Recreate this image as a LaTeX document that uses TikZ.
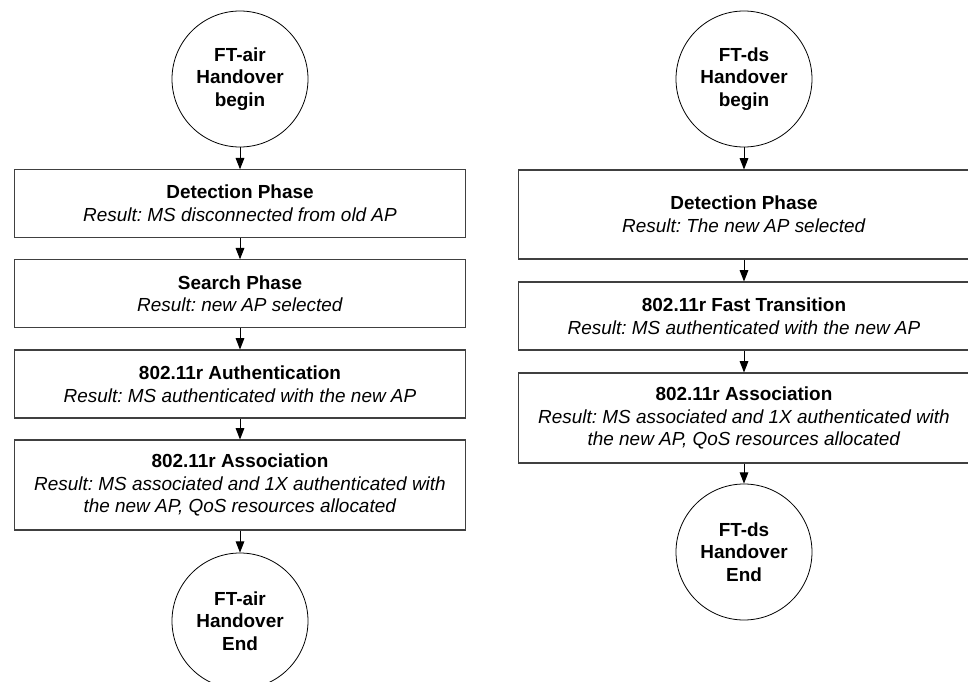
\documentclass[tikz,border=0pt]{standalone}
\usepackage{fontspec}
\setmainfont{Liberation Sans}
\usetikzlibrary{arrows.meta}
\frenchspacing
\tikzset{
	phase/.style={draw=black!75, line width=0.8pt, fill=white,
		minimum width=338.5pt, minimum height=50.5pt, inner sep=0pt,
		align=center, font=\fontsize{14.2pt}{16.9pt}\selectfont},
	tallphase/.style={phase, minimum height=67.5pt},
	terminal/.style={draw, circle, line width=0.6pt, minimum size=102pt,
		inner sep=0pt, align=center, font=\fontsize{14.2pt}{16.9pt}\selectfont\bfseries},
	flow/.style={-{Triangle[length=8.5pt,width=6.5pt]}, line width=0.75pt}
}
\begin{document}
\begin{tikzpicture}[x=0.75pt, y=-0.75pt]
		\useasboundingbox (0,0) rectangle (968,682);
		% FT-air
		\node[terminal] (airbegin) at (240,79) {FT-air\\Handover\\begin};
		\node[phase] (airdetect) at (240,203.5)
			{\textbf{Detection Phase}\\\textit{Result: MS disconnected from old AP}};
		\node[phase] (airsearch) at (240,293.5)
			{\textbf{Search Phase}\\\textit{Result: new AP selected}};
		\node[phase, minimum height=51pt] (airauth) at (240,384)
			{\textbf{802.11r Authentication}\\\textit{Result: MS authenticated with the new AP}};
		\node[tallphase] (airassoc) at (240,485)
			{\textbf{802.11r Association}\\\textit{Result: MS associated and 1X authenticated with}\\
			\textit{the new AP, QoS resources allocated}};
		\node[terminal] (airend) at (240,621) {FT-air\\Handover\\End};
		% FT-ds
		\node[terminal] (dsbegin) at (744,79) {FT-ds\\Handover\\begin};
		\node[tallphase, minimum height=66.75pt] (dsdetect) at (744,214.5)
			{\textbf{Detection Phase}\\\textit{Result: The new AP selected}};
		\node[phase, minimum height=51pt] (dsfast) at (744,316)
			{\textbf{802.11r Fast Transition}\\\textit{Result: MS authenticated with the new AP}};
		\node[tallphase] (dsassoc) at (744,418)
			{\textbf{802.11r Association}\\\textit{Result: MS associated and 1X authenticated with}\\
			\textit{the new AP, QoS resources allocated}};
		\node[terminal] (dsend) at (744,552) {FT-ds\\Handover\\End};
		% Pfeile
		\draw[flow] (airbegin) -- (airdetect);
		\draw[flow] (airdetect) -- (airsearch);
		\draw[flow] (airsearch) -- (airauth);
		\draw[flow] (airauth) -- (airassoc);
		\draw[flow] (airassoc) -- (airend);
		\draw[flow] (dsbegin) -- (dsdetect);
		\draw[flow] (dsdetect) -- (dsfast);
		\draw[flow] (dsfast) -- (dsassoc);
		\draw[flow] (dsassoc) -- (dsend);
	\end{tikzpicture}
\end{document}
